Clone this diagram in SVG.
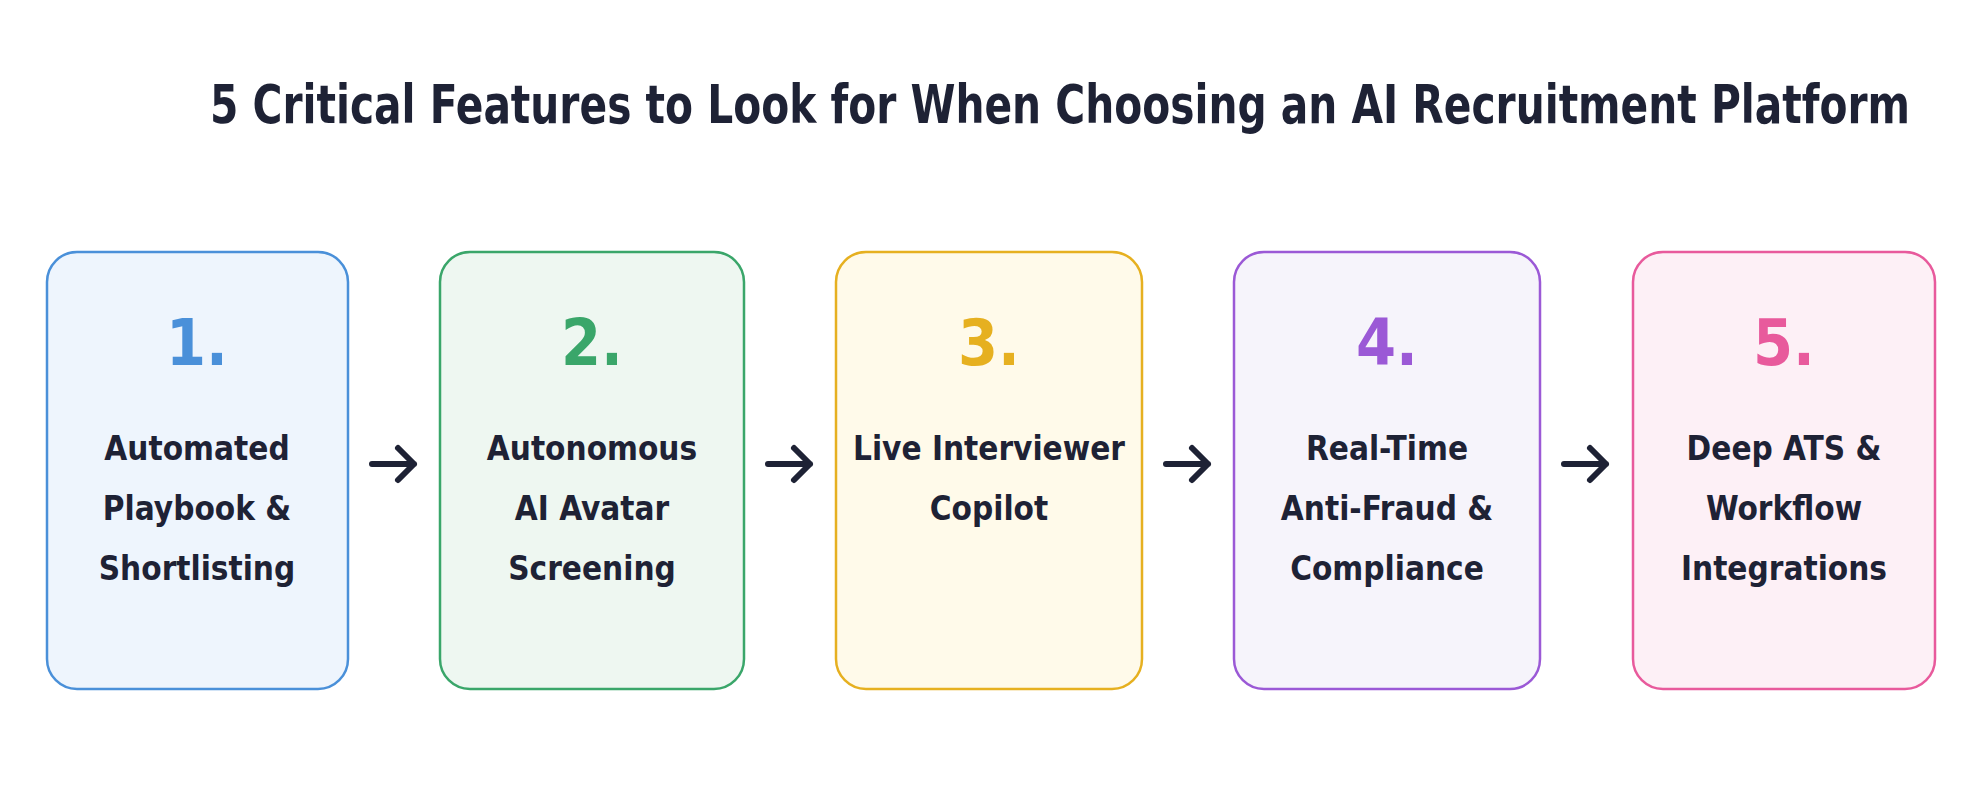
<svg xmlns="http://www.w3.org/2000/svg" width="1983" height="793" viewBox="0 0 1983 793">
<style>
.t{font-family:"DejaVu Sans Condensed","Roboto","Liberation Sans",sans-serif;font-weight:bold;fill:#1e2235}
.title{font-size:54px}
.num{font-size:64px;text-anchor:middle}
.lbl{font-size:33px;text-anchor:middle}
.box{stroke-width:2.5}
.arr{stroke:#1e2235;stroke-width:6;fill:none;stroke-linecap:round;stroke-linejoin:round}
</style>
<rect width="1983" height="793" fill="#ffffff"/>
<text class="t title" x="210" y="123" textLength="1700" lengthAdjust="spacingAndGlyphs">5 Critical Features to Look for When Choosing an AI Recruitment Platform</text>
<g id="node1"><rect class="box" x="47" y="252" width="301" height="437" rx="30" fill="#eef5fd" stroke="#4a90d9"/>
<text class="t num" x="197" y="365" style="fill:#4a90d9">1.</text>
<text class="t lbl" x="197" y="460">Automated</text><text class="t lbl" x="197" y="520">Playbook &amp;</text><text class="t lbl" x="197" y="580">Shortlisting</text></g>
<g id="node2"><rect class="box" x="440" y="252" width="304" height="437" rx="30" fill="#eef7f1" stroke="#3aa66a"/>
<text class="t num" x="592" y="365" style="fill:#3aa66a">2.</text>
<text class="t lbl" x="592" y="460">Autonomous</text><text class="t lbl" x="592" y="520">AI Avatar</text><text class="t lbl" x="592" y="580">Screening</text></g>
<g id="node3"><rect class="box" x="836" y="252" width="306" height="437" rx="30" fill="#fffaea" stroke="#e6b020"/>
<text class="t num" x="989" y="365" style="fill:#e6b020">3.</text>
<text class="t lbl" x="989" y="460">Live Interviewer</text><text class="t lbl" x="989" y="520">Copilot</text></g>
<g id="node4"><rect class="box" x="1234" y="252" width="306" height="437" rx="30" fill="#f6f4fb" stroke="#9b59d6"/>
<text class="t num" x="1387" y="365" style="fill:#9b59d6">4.</text>
<text class="t lbl" x="1387" y="460">Real-Time</text><text class="t lbl" x="1387" y="520">Anti-Fraud &amp;</text><text class="t lbl" x="1387" y="580">Compliance</text></g>
<g id="node5"><rect class="box" x="1633" y="252" width="302" height="437" rx="30" fill="#fdf0f6" stroke="#e85a9c"/>
<text class="t num" x="1784" y="365" style="fill:#e85a9c">5.</text>
<text class="t lbl" x="1784" y="460">Deep ATS &amp;</text><text class="t lbl" x="1784" y="520">Workflow</text><text class="t lbl" x="1784" y="580">Integrations</text></g>
<g id="connectors">
<path class="arr" d="M372 464H414M398 448L414 464L398 480"/>
<path class="arr" d="M768 464H810M794 448L810 464L794 480"/>
<path class="arr" d="M1166 464H1208M1192 448L1208 464L1192 480"/>
<path class="arr" d="M1564 464H1606M1590 448L1606 464L1590 480"/>
</g>
</svg>
